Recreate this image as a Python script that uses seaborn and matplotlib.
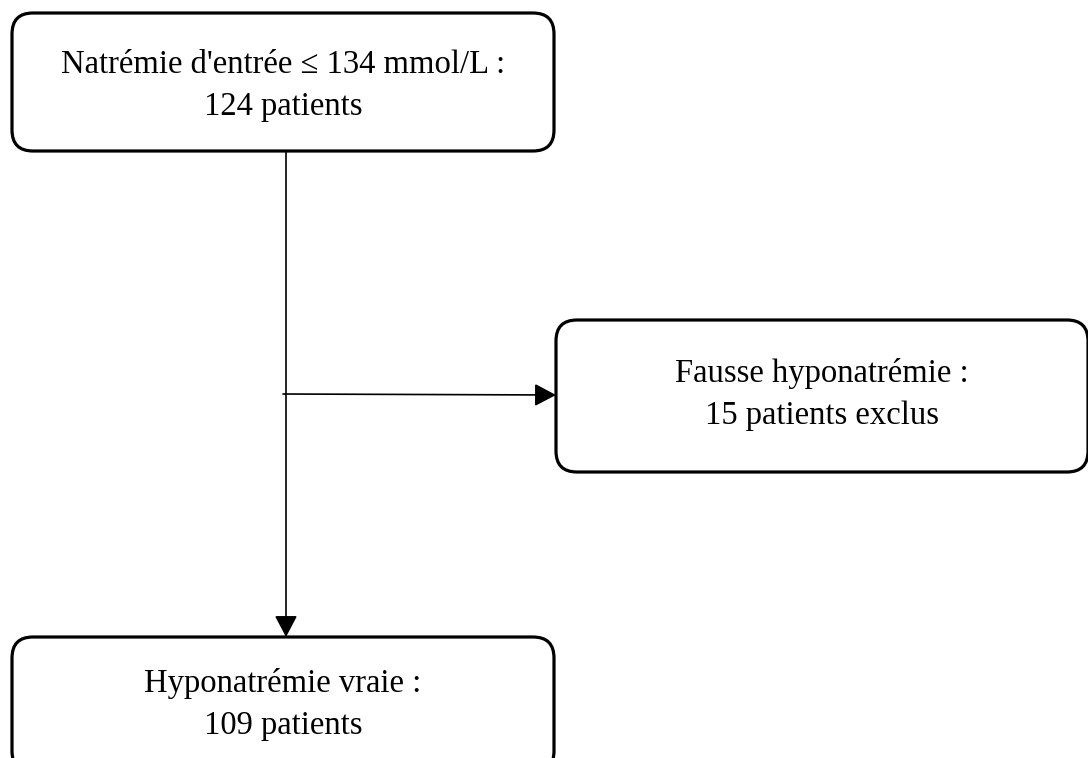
import matplotlib
matplotlib.use("Agg")
import matplotlib.pyplot as plt
import seaborn as sns
from matplotlib.patches import FancyBboxPatch

sns.set_theme(style="white")
plt.rcParams['font.family'] = ['Liberation Serif', 'DejaVu Serif']

# flowchart content
titles = ["Natrémie d'entrée \u2264 134 mmol/L :", "Fausse hyponatrémie :", "Hyponatrémie vraie :"]
counts = [124, 15, 109]
suffixes = ["patients", "patients exclus", "patients"]

# layout in pixel coordinates (x0, y0, x1, y1), y downwards
boxes = [(12, 13, 554, 151), (556, 320, 1088, 472), (12, 637, 554, 772)]
first_baseline = [73, 382, 692]
line_gap = 42

fig, ax = plt.subplots(figsize=(10.88, 7.58), dpi=100)
fig.subplots_adjust(0, 0, 1, 1)
ax.set_xlim(0, 1088)
ax.set_ylim(758, 0)
ax.axis("off")

for (x0, y0, x1, y1), b, t, n, s in zip(boxes, first_baseline, titles, counts, suffixes):
    r = 21
    patch = FancyBboxPatch((x0 + r, y0 + r), (x1 - x0) - 2 * r, (y1 - y0) - 2 * r,
                           boxstyle=f"round,pad={r},rounding_size={r}",
                           fc="white", ec="black", lw=2.3, zorder=2)
    ax.add_patch(patch)
    cx = (x0 + x1) / 2
    ax.text(cx, b, t, ha="center", va="baseline", fontsize=23.5, color="black", zorder=3)
    ax.text(cx, b + line_gap, f"{n} {s}", ha="center", va="baseline", fontsize=23.5,
            color="black", zorder=3)

# connectors
style = "-|>,head_length=1.1,head_width=0.58"
ax.annotate("", xy=(286, 637), xytext=(286, 151),
            arrowprops=dict(arrowstyle=style, color="black", lw=1.2, shrinkA=0, shrinkB=0),
            zorder=1)
ax.annotate("", xy=(556, 395), xytext=(283, 394),
            arrowprops=dict(arrowstyle=style, color="black", lw=1.2, shrinkA=0, shrinkB=0),
            zorder=1)

fig.savefig("out.png", dpi=100, facecolor="white")
